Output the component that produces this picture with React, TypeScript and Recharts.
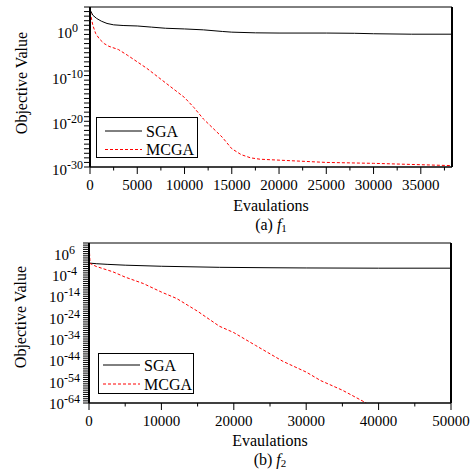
import { LineChart, Line, XAxis, YAxis, Legend, Label } from "recharts";

// (a) f1 — evaluations and log10 of the objective value
const f1SgaEvals = [0, 300, 700, 1200, 1800, 2500, 3500, 5000, 6500, 8000, 10000, 12000, 14000, 15000, 17500, 20000, 25000, 28000, 30000, 34000, 38300];
const f1SgaExp = [4.4, 3.2, 2.5, 1.9, 1.4, 1.1, 0.95, 0.85, 0.6, 0.35, 0.2, 0, -0.35, -0.5, -0.65, -0.7, -0.7, -0.75, -0.85, -0.95, -0.95];
const f1McgaEvals = [0, 100, 300, 600, 1000, 1500, 2000, 3000, 4000, 5000, 6000, 7500, 9000, 10000, 11000, 12000, 13000, 14000, 15000, 16000, 17000, 18000, 20000, 25000, 30000, 35000, 38300];
const f1McgaExp = [5, 3, 1, -0.8, -2, -3, -3.6, -4.3, -5.6, -7, -8.4, -10.8, -13.2, -14.8, -17, -19.5, -21.5, -23.5, -26, -27.3, -28, -28.3, -28.5, -29, -29.2, -29.5, -29.7];

// (b) f2
const f2SgaEvals = [0, 1000, 2500, 5000, 10000, 18000, 25000, 30000, 40000, 50000];
const f2SgaExp = [0.6, 0.3, 0, -0.4, -0.9, -1.4, -1.6, -1.7, -1.8, -1.8];
const f2McgaEvals = [0, 150, 1000, 3300, 5000, 7500, 10000, 12100, 15000, 18000, 20000, 23000, 26800, 30000, 32000, 35000, 38300];
const f2McgaExp = [10, 0.4, -1, -3.5, -6, -9, -13, -16, -22, -29, -32, -38, -45.5, -50.5, -54.5, -59, -65];

const f1XTicks = [0, 2500, 5000, 7500, 10000, 12500, 15000, 17500, 20000, 22500, 25000, 27500, 30000, 32500, 35000, 37500];
const f1XLabels = [0, 5000, 10000, 15000, 20000, 25000, 30000, 35000];
const f1YMajor = [0, -10, -20, -30];
const f2XTicks = [0, 5000, 10000, 15000, 20000, 25000, 30000, 35000, 40000, 45000, 50000];
const f2XLabels = [0, 10000, 20000, 30000, 40000, 50000];
const f2YMajor = [6, -4, -14, -24, -34, -44, -54, -64];

const FONT = "'Liberation Serif', 'Times New Roman', serif";

const pts = (xs: number[], es: number[]) => xs.map((x, i) => ({ x, y: Math.pow(10, es[i]) }));
const decades = (lo: number, hi: number) => Array.from({ length: hi - lo + 1 }, (_, i) => Math.pow(10, lo + i));

function XTick(props: any) {
  const { x, y, payload, labels } = props;
  const major = labels.includes(payload.value);
  return (
    <g>
      <line x1={x} x2={x} y1={y} y2={y + (major ? 7 : 3.5)} stroke="#000" />
      {major && (
        <text x={x} y={y + 23} textAnchor="middle" fontSize={15} fill="#000" fontFamily={FONT}>
          {payload.value}
        </text>
      )}
    </g>
  );
}

function YTick(props: any) {
  const { x, y, payload, labels, dx } = props;
  const e = Math.round(Math.log10(payload.value));
  return (
    <g>
      <line x1={x - 6} x2={x} y1={y} y2={y} stroke="#000" />
      {labels.includes(e) && (
        <text x={x - dx} y={y + 8} textAnchor="middle" fontSize={15} fill="#000" fontFamily={FONT}>
          10<tspan dy={-6} fontSize={12}>{e}</tspan>
        </text>
      )}
    </g>
  );
}

function LegendBox({ w, h, r1, r2, lx, tx }: { w: number; h: number; r1: number; r2: number; lx: number; tx: number }) {
  return (
    <svg width={w} height={h} style={{ display: "block" }} fontFamily={FONT}>
      <rect x={0.5} y={0.5} width={w - 1} height={h - 1} fill="#fff" stroke="#000" />
      <line x1={lx} x2={lx + 37} y1={r1} y2={r1} stroke="#000" />
      <text x={tx} y={r1 + 5.5} fontSize={16} fill="#000">SGA</text>
      <line x1={lx} x2={lx + 37} y1={r2} y2={r2} stroke="#ff0000" strokeDasharray="3 2" />
      <text x={tx} y={r2 + 5.5} fontSize={16} fill="#000">MCGA</text>
    </svg>
  );
}

type PanelProps = {
  height: number;
  margin: { top: number; right: number; bottom: number; left: number };
  yWidth: number;
  xHeight: number;
  xMax: number;
  xTicks: number[];
  xLabels: number[];
  yLow: number;
  yHigh: number;
  yMajor: number[];
  labelDx: number;
  sga: { x: number; y: number }[];
  mcga: { x: number; y: number }[];
  letter: string;
  index: string;
  cx: number;
  titleY: number;
  capY: number;
  yTitle: { x: number; y: number };
  legend: { left: number; top: number; w: number; h: number; r1: number; r2: number; lx: number; tx: number };
};

function Panel(p: PanelProps) {
  const yTicks = decades(p.yLow, p.yHigh);
  const yDomain = [Math.pow(10, p.yLow), Math.pow(10, p.yHigh)];
  const lg = p.legend;
  return (
    <LineChart width={471} height={p.height} margin={p.margin} style={{ fontFamily: FONT }}>
      <XAxis
        dataKey="x"
        type="number"
        domain={[0, p.xMax]}
        allowDataOverflow
        ticks={p.xTicks}
        interval={0}
        height={p.xHeight}
        axisLine={{ stroke: "#000", strokeWidth: 1.5 }}
        tickLine={false}
        tickSize={0}
        tickMargin={0}
        tick={(t: any) => <XTick {...t} labels={p.xLabels} />}
      >
        <Label
          content={() => (
            <g fontFamily={FONT}>
              <text x={p.cx} y={p.titleY} textAnchor="middle" fontSize={16} fill="#000">
                Evaulations
              </text>
              <text x={p.cx} y={p.capY} textAnchor="middle" fontSize={16} fill="#000">
                ({p.letter}) <tspan fontStyle="italic">f</tspan>
                <tspan fontSize={11} dy={2}>{p.index}</tspan>
              </text>
            </g>
          )}
        />
      </XAxis>
      <XAxis
        xAxisId="top"
        orientation="top"
        mirror
        dataKey="x"
        type="number"
        domain={[0, p.xMax]}
        allowDataOverflow
        ticks={p.xTicks}
        interval={0}
        tick={false}
        tickSize={3}
        axisLine={{ stroke: "#000" }}
        tickLine={{ stroke: "#000" }}
      />
      <YAxis
        type="number"
        scale="log"
        domain={yDomain}
        allowDataOverflow
        ticks={yTicks}
        interval={0}
        width={p.yWidth}
        axisLine={{ stroke: "#000", strokeWidth: 2 }}
        tickLine={false}
        tickSize={0}
        tickMargin={0}
        tick={(t: any) => <YTick {...t} labels={p.yMajor} dx={p.labelDx} />}
      >
        <Label
          content={() => (
            <text
              x={p.yTitle.x}
              y={p.yTitle.y}
              transform={`rotate(-90 ${p.yTitle.x} ${p.yTitle.y})`}
              textAnchor="middle"
              dominantBaseline="central"
              fontSize={16}
              fill="#000"
              fontFamily={FONT}
            >
              Objective Value
            </text>
          )}
        />
      </YAxis>
      <YAxis
        yAxisId="right"
        orientation="right"
        mirror
        type="number"
        scale="log"
        domain={yDomain}
        allowDataOverflow
        ticks={yTicks}
        interval={0}
        tick={false}
        tickSize={3}
        axisLine={{ stroke: "#000", strokeWidth: 2 }}
        tickLine={{ stroke: "#000" }}
      />
      <Line data={p.sga} dataKey="y" stroke="#000" strokeWidth={1} dot={false} isAnimationActive={false} />
      <Line
        data={p.mcga}
        dataKey="y"
        stroke="#ff0000"
        strokeWidth={1}
        strokeDasharray="3 2"
        dot={false}
        isAnimationActive={false}
      />
      <Legend
        layout="vertical"
        align="center"
        verticalAlign="middle"
        wrapperStyle={{ left: lg.left, top: lg.top, width: lg.w, height: lg.h }}
        content={() => <LegendBox w={lg.w} h={lg.h} r1={lg.r1} r2={lg.r2} lx={lg.lx} tx={lg.tx} />}
      />
    </LineChart>
  );
}

export default function App() {
  return (
    <div style={{ position: "absolute", left: 0, top: 0, width: 471, height: 469, background: "#fff", fontFamily: FONT }}>
      <div style={{ position: "absolute", left: 0, top: 0 }}>
        <Panel
          height={235}
          margin={{ top: 7, right: 19, bottom: 0, left: 0 }}
          yWidth={90}
          xHeight={68}
          xMax={38300}
          xTicks={f1XTicks}
          xLabels={f1XLabels}
          yLow={-30}
          yHigh={5}
          yMajor={f1YMajor}
          labelDx={22.5}
          sga={pts(f1SgaEvals, f1SgaExp)}
          mcga={pts(f1McgaEvals, f1McgaExp)}
          letter="a"
          index="1"
          cx={271}
          titleY={210.5}
          capY={229.5}
          yTitle={{ x: 21.5, y: 83 }}
          legend={{ left: 96, top: 117, w: 102, h: 41, r1: 14, r2: 32.5, lx: 9, tx: 50 }}
        />
      </div>
      <div style={{ position: "absolute", left: 0, top: 235 }}>
        <Panel
          height={234}
          margin={{ top: 8, right: 20, bottom: 0, left: 0 }}
          yWidth={89}
          xHeight={66}
          xMax={50000}
          xTicks={f2XTicks}
          xLabels={f2XLabels}
          yLow={-65}
          yHigh={10}
          yMajor={f2YMajor}
          labelDx={24.5}
          sga={pts(f2SgaEvals, f2SgaExp)}
          mcga={pts(f2McgaEvals, f2McgaExp)}
          letter="b"
          index="2"
          cx={270}
          titleY={211}
          capY={229.5}
          yTitle={{ x: 20, y: 82 }}
          legend={{ left: 98, top: 118, w: 96, h: 41, r1: 12, r2: 31, lx: 5, tx: 46 }}
        />
      </div>
    </div>
  );
}
